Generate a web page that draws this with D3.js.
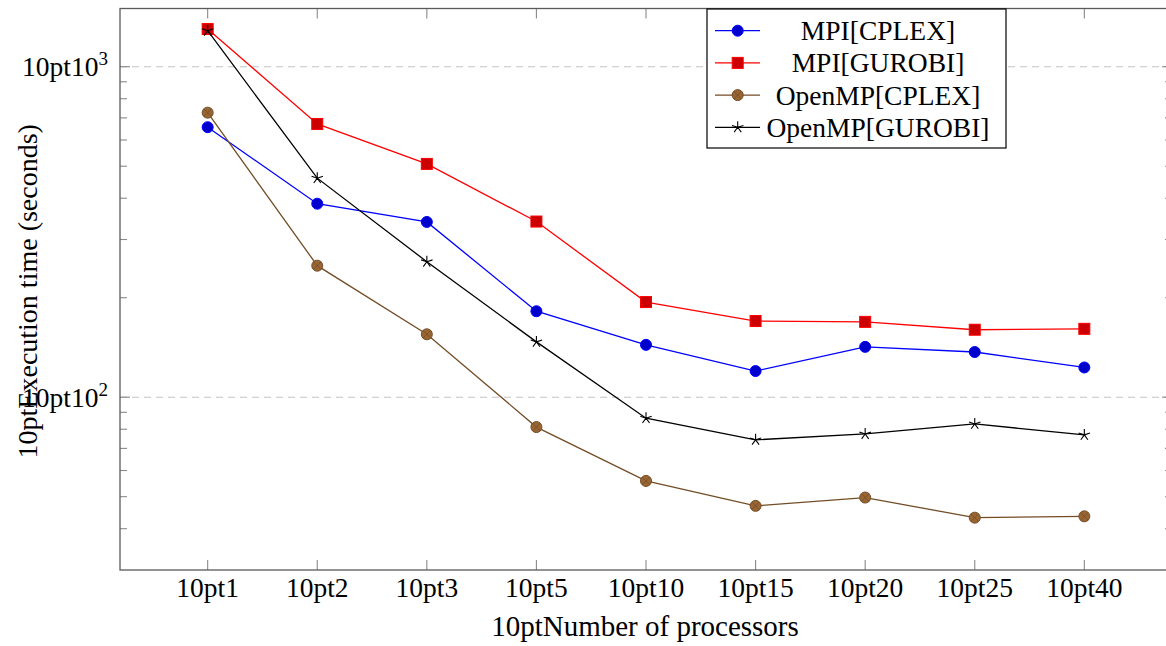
<!DOCTYPE html>
<html>
<head>
<meta charset="utf-8">
<script src="https://cdn.jsdelivr.net/npm/d3@7/dist/d3.min.js"></script>
<style>
  html, body { margin: 0; padding: 0; background: #fff; }
  svg { display: block; }
  text { font-family: "Liberation Serif", "Times New Roman", serif; fill: #000; }
</style>
</head>
<body>
<svg id="chart" width="1166" height="646"></svg>
<script>
// ---- data ----
const categories = ["1", "2", "3", "5", "10", "15", "20", "25", "40"];
const mpiCplex    = [656, 385, 339, 182, 144, 120, 142, 137, 123];
const mpiGurobi   = [1300, 671, 508, 340, 194, 170, 169, 160, 161];
const ompCplex    = [726, 250, 155, 81.2, 55.8, 46.9, 49.7, 43.2, 43.6];
const ompGurobi   = [1285, 460, 257, 147, 86.4, 74.3, 77.4, 83, 76.9];
const seriesNames = ["MPI[CPLEX]", "MPI[GUROBI]", "OpenMP[CPLEX]", "OpenMP[GUROBI]"];
const yMajorTicks = [100, 1000];
const yMajorLabels = [["10pt10", "2"], ["10pt10", "3"]];
const yMinorTicks = [40, 50, 60, 70, 80, 90, 200, 300, 400, 500, 600, 700, 800, 900];
const xLabelPrefix = "10pt";
const xAxisTitle = "10ptNumber of processors";
const yAxisTitle = "10ptExecution time (seconds)";

const styles = [
  { line: "#0000ff", fill: "#0000cc", mark: "circle" },
  { line: "#ff0000", fill: "#cc0000", mark: "square" },
  { line: "#734d26", fill: "#996633", mark: "otimes" },
  { line: "#000000", fill: "#000000", mark: "star" }
];
const seriesData = [mpiCplex, mpiGurobi, ompCplex, ompGurobi];

// ---- layout ----
const L = 120, R = 1172, T = 8.5, B = 570;
const svg = d3.select("#chart");

const x = d3.scalePoint().domain(categories).range([L, R]).padding(0.8);
const y = d3.scaleLog().domain([30, 1500]).range([B, T]);

// grid
const g = svg.append("g");
g.selectAll("line.grid").data(yMajorTicks).join("line")
  .attr("x1", L).attr("x2", R)
  .attr("y1", d => y(d)).attr("y2", d => y(d))
  .attr("stroke", "#c4c4c4").attr("stroke-width", 1.1)
  .attr("stroke-dasharray", "7,5");

// ticks
const tickColor = "#8a8a8a";
categories.forEach(c => {
  g.append("line").attr("x1", x(c)).attr("x2", x(c)).attr("y1", B).attr("y2", B - 10)
    .attr("stroke", tickColor).attr("stroke-width", 1.1);
  g.append("line").attr("x1", x(c)).attr("x2", x(c)).attr("y1", T).attr("y2", T + 10)
    .attr("stroke", tickColor).attr("stroke-width", 1.1);
});
yMinorTicks.forEach(v => {
  g.append("line").attr("x1", L).attr("x2", L + 7).attr("y1", y(v)).attr("y2", y(v))
    .attr("stroke", tickColor).attr("stroke-width", 1.1);
  g.append("line").attr("x1", R).attr("x2", R - 7).attr("y1", y(v)).attr("y2", y(v))
    .attr("stroke", tickColor).attr("stroke-width", 1.1);
});
yMajorTicks.forEach(v => {
  g.append("line").attr("x1", L).attr("x2", L + 10).attr("y1", y(v)).attr("y2", y(v))
    .attr("stroke", tickColor).attr("stroke-width", 1.1);
  g.append("line").attr("x1", R).attr("x2", R - 10).attr("y1", y(v)).attr("y2", y(v))
    .attr("stroke", tickColor).attr("stroke-width", 1.1);
});

// axis frame
svg.append("rect").attr("x", L).attr("y", T).attr("width", R - L).attr("height", B - T)
  .attr("fill", "none").attr("stroke", "#5a5a5a").attr("stroke-width", 1.3);

// x tick labels
svg.selectAll("text.xt").data(categories).join("text")
  .attr("x", d => x(d)).attr("y", 597)
  .attr("text-anchor", "middle").attr("font-size", 27.5)
  .text(d => xLabelPrefix + d);

// y tick labels
yMajorTicks.forEach((v, i) => {
  const t = svg.append("text").attr("x", 108).attr("y", y(v) + 9.5)
    .attr("text-anchor", "end").attr("font-size", 27.5);
  t.append("tspan").text(yMajorLabels[i][0]);
  t.append("tspan").attr("dy", -11).attr("font-size", 19).text(yMajorLabels[i][1]);
});

// axis titles
svg.append("text").attr("x", (L + R) / 2 - 1).attr("y", 636)
  .attr("text-anchor", "middle").attr("font-size", 29).text(xAxisTitle);
svg.append("text")
  .attr("transform", `translate(37,${(T + B) / 2 + 2}) rotate(-90)`)
  .attr("text-anchor", "middle").attr("font-size", 28).text(yAxisTitle);

// marker drawing
function drawMarker(sel, cx, cy, st) {
  if (st.mark === "circle") {
    sel.append("circle").attr("cx", cx).attr("cy", cy).attr("r", 5.5)
      .attr("fill", st.fill).attr("stroke", st.line).attr("stroke-width", 1);
  } else if (st.mark === "square") {
    sel.append("rect").attr("x", cx - 5.5).attr("y", cy - 5.5).attr("width", 11).attr("height", 11)
      .attr("fill", st.fill).attr("stroke", st.line).attr("stroke-width", 1);
  } else if (st.mark === "otimes") {
    sel.append("circle").attr("cx", cx).attr("cy", cy).attr("r", 5.5)
      .attr("fill", st.fill).attr("stroke", st.line).attr("stroke-width", 1);
    const d = 5.5 * Math.SQRT1_2;
    sel.append("path")
      .attr("d", `M${cx - d},${cy - d}L${cx + d},${cy + d}M${cx - d},${cy + d}L${cx + d},${cy - d}`)
      .attr("stroke", st.line).attr("stroke-width", 0.8).attr("fill", "none");
  } else if (st.mark === "star") {
    let p = "";
    for (let k = 0; k < 5; k++) {
      const a = -Math.PI / 2 + k * 2 * Math.PI / 5;
      p += `M${cx},${cy}L${cx + 6 * Math.cos(a)},${cy + 6 * Math.sin(a)}`;
    }
    sel.append("path").attr("d", p).attr("stroke", st.line).attr("stroke-width", 1.1).attr("fill", "none");
  }
}

// series
const line = d3.line().x((d, i) => x(categories[i])).y(d => y(d));
const plot = svg.append("g");
seriesData.forEach((vals, si) => {
  const st = styles[si];
  plot.append("path").datum(vals).attr("d", line)
    .attr("fill", "none").attr("stroke", st.line).attr("stroke-width", 1.3);
  const mg = plot.append("g");
  vals.forEach((v, i) => drawMarker(mg, x(categories[i]), y(v), st));
});

// legend
const lg = svg.append("g");
lg.append("rect").attr("x", 707).attr("y", 9).attr("width", 299).attr("height", 139)
  .attr("fill", "#fff").attr("stroke", "#000").attr("stroke-width", 1.2);
seriesNames.forEach((name, i) => {
  const cy = 30.7 + i * 32.2;
  const st = styles[i];
  lg.append("line").attr("x1", 715).attr("x2", 760).attr("y1", cy).attr("y2", cy)
    .attr("stroke", st.line).attr("stroke-width", 1.3);
  drawMarker(lg, 737.7, cy, st);
  lg.append("text").attr("x", 878).attr("y", cy + 9.5)
    .attr("text-anchor", "middle").attr("font-size", 27.5).text(name);
});
</script>
</body>
</html>
